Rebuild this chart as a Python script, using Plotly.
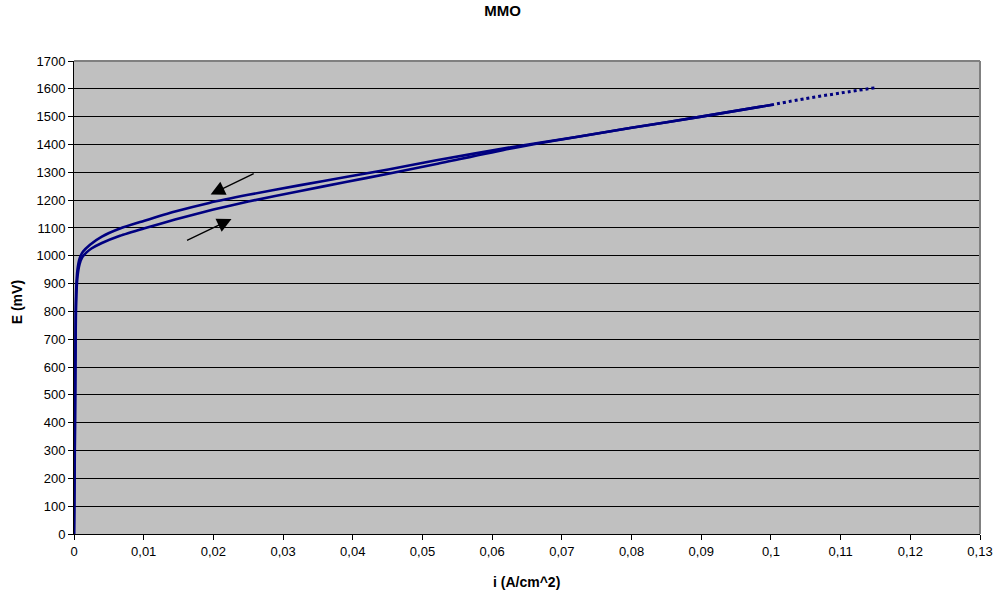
import plotly.graph_objects as go

# Anodic (forward) scan, i in A/cm^2, E in mV
i_forward = [0, 0.0001, 0.0002, 0.0003, 0.0005, 0.0008, 0.0012, 0.0018, 0.0025, 0.004,
             0.0066, 0.01, 0.0145, 0.02, 0.025, 0.0323, 0.039, 0.0451, 0.052,
             0.0627, 0.0723, 0.08, 0.09, 0.1]
e_forward = [0, 250, 600, 830, 925, 970, 995, 1012, 1026, 1046,
             1072, 1098, 1130, 1166, 1195, 1232, 1265, 1295, 1330,
             1386, 1428, 1460, 1500, 1542]

# Return (reverse) scan
i_reverse = [0.1, 0.09, 0.08, 0.0723, 0.0627, 0.052, 0.0451, 0.039, 0.0323, 0.025,
             0.0194, 0.0145, 0.01, 0.0066, 0.004, 0.0023, 0.0013, 0.0008, 0.0005,
             0.0003, 0.0002, 0.0001, 0]
e_reverse = [1542, 1500, 1460, 1428, 1390, 1343, 1310, 1283, 1253, 1219,
             1190, 1159, 1125, 1098, 1069, 1040, 1015, 990, 950,
             870, 650, 300, 0]

# Extrapolated end of the scan (dotted)
i_tail = [0.1, 0.105, 0.11, 0.115]
e_tail = [1542, 1565, 1585, 1604]

# Scan direction arrows: (tail_i, tail_E, head_i, head_E)
arrows = [
    (0.0260, 1298, 0.0196, 1220),
    (0.0160, 1053, 0.0226, 1132),
]

x_ticks = [0, 0.01, 0.02, 0.03, 0.04, 0.05, 0.06, 0.07, 0.08, 0.09, 0.1, 0.11, 0.12, 0.13]
x_tick_text = ["0", "0,01", "0,02", "0,03", "0,04", "0,05", "0,06", "0,07", "0,08",
               "0,09", "0,1", "0,11", "0,12", "0,13"]
y_ticks = list(range(0, 1800, 100))

navy = "#000080"
font_family = "Liberation Sans, Arial, sans-serif"

fig = go.Figure()
fig.add_trace(go.Scatter(x=i_forward, y=e_forward, mode="lines",
                         line=dict(color=navy, width=2.6, shape="spline", smoothing=0.6),
                         hoverinfo="skip"))
fig.add_trace(go.Scatter(x=i_reverse, y=e_reverse, mode="lines",
                         line=dict(color=navy, width=2.6, shape="spline", smoothing=0.6),
                         hoverinfo="skip"))
fig.add_trace(go.Scatter(x=i_tail, y=e_tail, mode="lines",
                         line=dict(color=navy, width=3, dash="dot", shape="spline"),
                         hoverinfo="skip"))

for ti, te, hi, he in arrows:
    fig.add_annotation(x=hi, y=he, ax=ti, ay=te, xref="x", yref="y",
                       axref="x", ayref="y", text="", showarrow=True,
                       arrowhead=2, arrowsize=2.2, arrowwidth=1.3, arrowcolor="black")

# Axis titles
fig.add_annotation(text="<b>i (A/cm^2)</b>", xref="paper", yref="paper",
                   x=0.499, y=-0.1015, xanchor="center", yanchor="middle",
                   showarrow=False, font=dict(family=font_family, size=14, color="black"))
fig.add_annotation(text="<b>E (mV)</b>", xref="paper", yref="paper",
                   x=-0.0626, y=0.4905, xanchor="center", yanchor="middle",
                   textangle=-90, showarrow=False,
                   font=dict(family=font_family, size=14, color="black"))

# Gray frame on the top and right edges of the plot area
fig.add_shape(type="line", xref="paper", yref="paper", x0=0, x1=1, y0=1, y1=1,
              line=dict(color="#808080", width=2))
fig.add_shape(type="line", xref="paper", yref="paper", x0=1, x1=1, y0=0, y1=1,
              line=dict(color="#808080", width=2))

fig.update_layout(
    width=1005, height=596,
    margin=dict(l=74, r=21, t=61, b=62),
    paper_bgcolor="white",
    plot_bgcolor="#C0C0C0",
    showlegend=False,
    font=dict(family=font_family, size=13, color="black"),
    title=dict(text="<b>MMO</b>", x=0.5, xref="container", xanchor="center",
               y=1 - 11 / 596, yref="container", yanchor="middle",
               font=dict(family=font_family, size=15, color="black")),
    xaxis=dict(
        range=[0, 0.13], tickvals=x_ticks, ticktext=x_tick_text,
        showgrid=False, zeroline=False, showline=True, linecolor="black", linewidth=1,
        ticks="outside", ticklen=5, tickcolor="black",
        tickfont=dict(size=13),
    ),
    yaxis=dict(
        range=[0, 1700], tickvals=y_ticks,
        showgrid=True, gridcolor="black", gridwidth=1,
        zeroline=False, showline=True, linecolor="black", linewidth=1,
        ticks="outside", ticklen=5, tickcolor="black",
        tickfont=dict(size=13),
    ),
)

fig.write_html("out.html")
